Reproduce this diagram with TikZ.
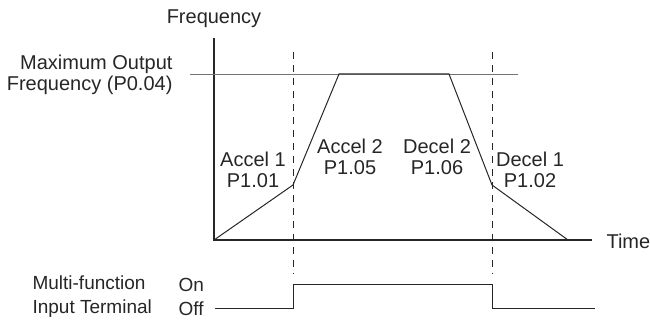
\documentclass[tikz,border=0pt]{standalone}
\usepackage{fontspec}
\setmainfont{Liberation Sans}
\begin{document}
\begin{tikzpicture}[x=1pt,y=-1pt,font=\fontsize{20}{20.5}\selectfont,
  lbl/.style={align=center,text=black!85},
  sig/.style={line width=1pt,black!85}]
\useasboundingbox (0,0) rectangle (650,320);
\draw[line width=2.6pt,black!85] (214,38) -- (214,240) coordinate (o) -- (592,240) coordinate (tend);
\node[lbl] (freq) at (214,19) {Frequency};
\node[lbl,anchor=west] (time) at (603,241) {Time};

\draw[black!55,line width=0.8pt] (190,74) coordinate (m1) -- (518,74) coordinate (m2);
\node[lbl,align=right,anchor=east] (fmax) at (176,75) {Maximum Output\\Frequency (P0.04)};

\foreach \x in {293,492} {\draw[black!85,line width=0.8pt,dash pattern=on 7pt off 6pt] (\x,52) -- (\x,274);}

\coordinate (a1) at (293,185);
\coordinate (a2) at (339,74);
\coordinate (d2) at (449,74);
\coordinate (d1) at (492,185);
\coordinate (z) at (568,240);
\draw[sig] (o) -- (a1) -- (a2) -- (d2) -- (d1) -- (z);

\node[lbl] (acc1) at (253,170) {Accel 1\\P1.01};
\node[lbl] (acc2) at (350,157) {Accel 2\\P1.05};
\node[lbl] (dec2) at (437,157) {Decel 2\\P1.06};
\node[lbl] (dec1) at (530,170) {Decel 1\\P1.02};

\node[lbl,align=left,anchor=west,font=\fontsize{19}{24}\selectfont] (mfi) at (29,297) {Multi-function\\Input Terminal};
\node[lbl,anchor=west,font=\fontsize{19}{24}\selectfont] (on) at (175,285) {On};
\node[lbl,anchor=west,font=\fontsize{19}{24}\selectfont] (off) at (175,309) {Off};
\draw[sig] (215,308) -- (293,308) -- (293,284) -- (492,284) -- (492,308) -- (595,308);
\end{tikzpicture}
\end{document}
